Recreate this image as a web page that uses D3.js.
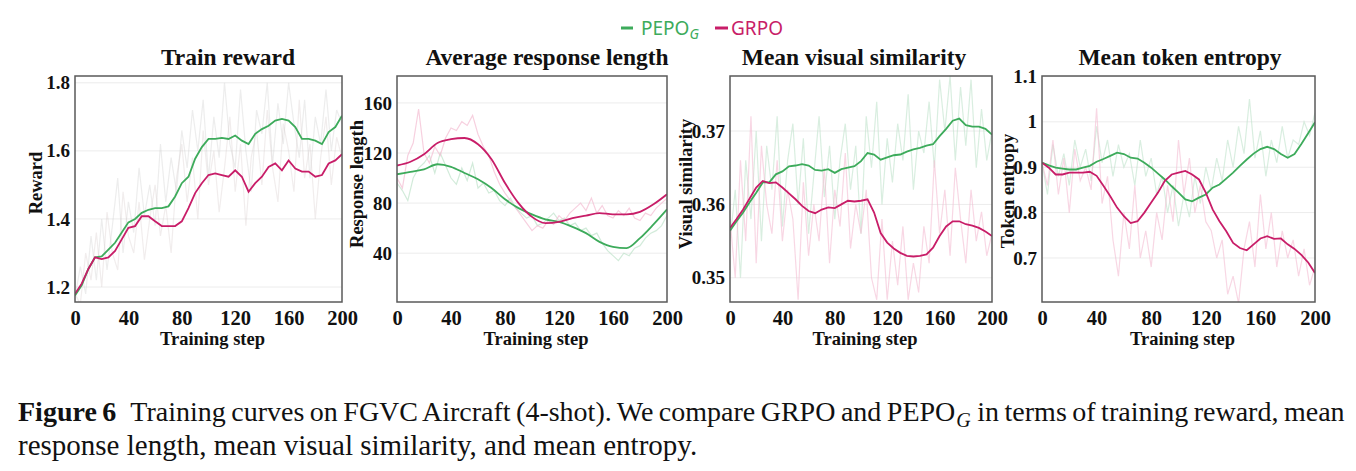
<!DOCTYPE html>
<html>
<head>
<meta charset="utf-8">
<script src="https://cdn.jsdelivr.net/npm/d3@7"></script>
<style>
  body { margin: 0; background: #fff; }
  svg text { font-family: 'Liberation Serif', 'Times New Roman', serif; }
</style>
</head>
<body>
<div id="chart"></div>
<script>
// steps for smoothed curves and raw (noisy) curves
let steps5 = d3.range(0, 201, 5)
let steps10 = d3.range(0, 201, 10)
let stepsRaw = d3.range(0, 201, 4)
let xTicks = [0, 40, 80, 120, 160, 200]

// Train reward
let rewardPepo = [1.175, 1.205, 1.253, 1.287, 1.29, 1.31, 1.33, 1.36, 1.39, 1.40, 1.418, 1.427, 1.432, 1.432, 1.437, 1.466, 1.505, 1.524, 1.577, 1.611, 1.635, 1.635, 1.638, 1.635, 1.645, 1.63, 1.62, 1.65, 1.664, 1.674, 1.689, 1.694, 1.689, 1.67, 1.635, 1.635, 1.63, 1.62, 1.655, 1.67, 1.703]
let rewardGrpo = [1.18, 1.21, 1.253, 1.287, 1.282, 1.287, 1.306, 1.34, 1.374, 1.379, 1.408, 1.408, 1.393, 1.379, 1.379, 1.379, 1.393, 1.432, 1.476, 1.505, 1.529, 1.534, 1.529, 1.524, 1.543, 1.524, 1.48, 1.505, 1.524, 1.553, 1.563, 1.543, 1.572, 1.548, 1.539, 1.539, 1.524, 1.529, 1.563, 1.572, 1.59]
let rewardPepoRaw = [1.17, 1.26, 1.18, 1.35, 1.22, 1.40, 1.25, 1.38, 1.52, 1.30, 1.45, 1.36, 1.55, 1.41, 1.50, 1.38, 1.62, 1.45, 1.58, 1.48, 1.66, 1.55, 1.72, 1.60, 1.75, 1.52, 1.70, 1.58, 1.80, 1.62, 1.55, 1.78, 1.60, 1.48, 1.72, 1.65, 1.80, 1.56, 1.74, 1.62, 1.80, 1.68, 1.58, 1.75, 1.52, 1.70, 1.62, 1.78, 1.60, 1.72, 1.68]
let rewardGrpoRaw = [1.18, 1.15, 1.30, 1.22, 1.36, 1.20, 1.42, 1.30, 1.25, 1.48, 1.35, 1.30, 1.45, 1.28, 1.40, 1.50, 1.35, 1.44, 1.30, 1.52, 1.62, 1.45, 1.58, 1.40, 1.66, 1.50, 1.60, 1.42, 1.55, 1.70, 1.48, 1.62, 1.38, 1.58, 1.66, 1.50, 1.72, 1.55, 1.45, 1.68, 1.60, 1.48, 1.75, 1.52, 1.62, 1.40, 1.58, 1.70, 1.50, 1.64, 1.58]

// Average response length
let lengthPepo = [103, 105, 107, 111, 109, 104, 99, 92, 83, 76, 71, 67, 65, 61, 56, 49, 45, 44, 52, 63, 75]
let lengthGrpo = [110, 113, 119, 128, 131, 132, 127, 115, 96, 80, 69, 64, 65, 68, 70, 72, 71, 71, 73, 79, 87]
let lengthPepoRaw = [96, 90, 82, 100, 108, 112, 118, 104, 120, 110, 100, 95, 108, 98, 112, 92, 96, 88, 90, 82, 78, 84, 76, 72, 68, 70, 62, 64, 68, 72, 66, 68, 62, 64, 58, 60, 54, 56, 48, 42, 38, 34, 40, 38, 44, 46, 52, 56, 58, 62, 70]
let lengthGrpoRaw = [100, 92, 118, 128, 155, 120, 112, 125, 118, 132, 140, 138, 145, 142, 150, 135, 125, 118, 105, 95, 88, 82, 76, 70, 64, 58, 62, 60, 66, 63, 70, 66, 72, 76, 80, 74, 84, 72, 78, 70, 68, 74, 70, 76, 68, 66, 72, 70, 76, 80, 84]

// Mean visual similarity
let simPepo = [0.3564, 0.3577, 0.3589, 0.3603, 0.3616, 0.363, 0.363, 0.3641, 0.3645, 0.3652, 0.3653, 0.3655, 0.3653, 0.3647, 0.3646, 0.3648, 0.3643, 0.3648, 0.365, 0.3652, 0.3659, 0.367, 0.3668, 0.3661, 0.3664, 0.3667, 0.3668, 0.3672, 0.3675, 0.3677, 0.368, 0.3682, 0.3693, 0.3703, 0.3714, 0.3717, 0.3708, 0.3706, 0.3706, 0.3703, 0.3695]
let simGrpo = [0.3568, 0.358, 0.3593, 0.3608, 0.3623, 0.3632, 0.3629, 0.363, 0.3623, 0.3615, 0.3607, 0.3598, 0.3591, 0.3588, 0.3593, 0.3596, 0.3595, 0.36, 0.3605, 0.3604, 0.3605, 0.3607, 0.3589, 0.3561, 0.3548, 0.354, 0.3534, 0.353, 0.3529, 0.353, 0.3532, 0.3541, 0.3557, 0.357, 0.3577, 0.3577, 0.3573, 0.3571, 0.3568, 0.3563, 0.3557]
let simPepoRaw = [0.355, 0.362, 0.350, 0.366, 0.358, 0.370, 0.355, 0.368, 0.362, 0.372, 0.357, 0.366, 0.371, 0.360, 0.369, 0.356, 0.364, 0.372, 0.361, 0.368, 0.358, 0.366, 0.371, 0.362, 0.368, 0.356, 0.372, 0.365, 0.374, 0.360, 0.369, 0.363, 0.371, 0.366, 0.375, 0.362, 0.370, 0.367, 0.374, 0.365, 0.377, 0.370, 0.3775, 0.366, 0.376, 0.368, 0.377, 0.365, 0.373, 0.366, 0.370]
let simGrpoRaw = [0.358, 0.350, 0.366, 0.355, 0.372, 0.352, 0.368, 0.360, 0.356, 0.366, 0.355, 0.362, 0.358, 0.347, 0.363, 0.353, 0.360, 0.355, 0.365, 0.352, 0.362, 0.357, 0.367, 0.354, 0.360, 0.356, 0.362, 0.350, 0.347, 0.358, 0.347, 0.355, 0.349, 0.357, 0.347, 0.352, 0.348, 0.357, 0.352, 0.366, 0.356, 0.362, 0.353, 0.365, 0.358, 0.352, 0.362, 0.355, 0.359, 0.353, 0.356]

// Mean token entropy
let entPepo = [0.91, 0.904, 0.899, 0.897, 0.895, 0.895, 0.899, 0.903, 0.912, 0.918, 0.925, 0.932, 0.929, 0.921, 0.919, 0.91, 0.899, 0.886, 0.873, 0.858, 0.844, 0.829, 0.825, 0.833, 0.84, 0.855, 0.862, 0.875, 0.888, 0.903, 0.917, 0.93, 0.94, 0.945, 0.94, 0.929, 0.921, 0.929, 0.951, 0.975, 0.999]
let entGrpo = [0.91, 0.899, 0.884, 0.884, 0.888, 0.888, 0.888, 0.89, 0.881, 0.859, 0.836, 0.811, 0.792, 0.777, 0.781, 0.8, 0.822, 0.844, 0.87, 0.884, 0.888, 0.892, 0.884, 0.873, 0.844, 0.807, 0.781, 0.759, 0.733, 0.722, 0.717, 0.73, 0.743, 0.748, 0.742, 0.743, 0.73, 0.72, 0.707, 0.69, 0.667]
let entPepoRaw = [0.91, 0.84, 0.95, 0.88, 0.93, 0.86, 0.96, 0.90, 0.94, 0.87, 0.99, 0.91, 0.96, 0.88, 0.95, 0.90, 0.93, 0.86, 0.96, 0.88, 0.92, 0.84, 0.88, 0.80, 0.86, 0.77, 0.84, 0.79, 0.88, 0.82, 0.90, 0.85, 0.92, 0.87, 0.96, 0.90, 0.99, 0.93, 1.05, 0.92, 0.98, 0.88, 0.96, 0.91, 0.99, 0.92, 0.96, 0.95, 1.00, 0.97, 1.02]
let entGrpoRaw = [0.91, 0.86, 0.96, 0.84, 0.92, 0.80, 0.94, 0.87, 0.90, 0.85, 1.03, 0.82, 0.88, 0.74, 0.66, 0.80, 0.72, 0.86, 0.70, 0.76, 0.68, 0.80, 0.74, 0.86, 0.78, 0.96, 0.84, 0.92, 0.80, 0.86, 0.78, 0.76, 0.70, 0.74, 0.62, 0.66, 0.60, 0.72, 0.78, 0.68, 0.84, 0.72, 0.80, 0.68, 0.76, 0.70, 0.74, 0.66, 0.72, 0.64, 0.68]

let green = '#3dab5b'
let magenta = '#c81d68'

let width = 1356
let height = 471

let svg = d3
  .select('#chart')
  .append('svg')
  .attr('width', width)
  .attr('height', height)

let panels = [
  {
    title: 'Train reward', ylabel: 'Reward', left: 75, right: 342, titleX: 228, ylabelX: 42, ylabelY: 183,
    domain: [1.156, 1.82], yTicks: [1.2, 1.4, 1.6, 1.8], fmt: d3.format('.1f'),
    steps: steps5, pepo: rewardPepo, grpo: rewardGrpo, pepoRaw: rewardPepoRaw, grpoRaw: rewardGrpoRaw,
    rawPepoColor: '#cccccc', rawGrpoColor: '#d6cccc', rawOpacity: 0.35, curve: d3.curveLinear
  },
  {
    title: 'Average response length', ylabel: 'Response length', left: 397, right: 667, titleX: 547, ylabelX: 363, ylabelY: 184,
    domain: [1, 181.5], yTicks: [40, 80, 120, 160], fmt: d3.format('d'),
    steps: steps10, pepo: lengthPepo, grpo: lengthGrpo, pepoRaw: lengthPepoRaw, grpoRaw: lengthGrpoRaw,
    rawPepoColor: '#bfe3cb', rawGrpoColor: '#f3bcd2', rawOpacity: 0.7, curve: d3.curveMonotoneX
  },
  {
    title: 'Mean visual similarity', ylabel: 'Visual similarity', left: 730, right: 992, titleX: 854, ylabelX: 692, ylabelY: 184,
    domain: [0.3467, 0.3775], yTicks: [0.35, 0.36, 0.37], fmt: d3.format('.2f'),
    steps: steps5, pepo: simPepo, grpo: simGrpo, pepoRaw: simPepoRaw, grpoRaw: simGrpoRaw,
    rawPepoColor: '#bfe3cb', rawGrpoColor: '#f3bcd2', rawOpacity: 0.6, curve: d3.curveLinear
  },
  {
    title: 'Mean token entropy', ylabel: 'Token entropy', left: 1042, right: 1315, titleX: 1180, ylabelX: 1014, ylabelY: 191,
    domain: [0.603, 1.101], yTicks: [0.7, 0.8, 0.9, 1, 1.1], fmt: d3.format('~g'),
    steps: steps5, pepo: entPepo, grpo: entGrpo, pepoRaw: entPepoRaw, grpoRaw: entGrpoRaw,
    rawPepoColor: '#bfe3cb', rawGrpoColor: '#f3bcd2', rawOpacity: 0.6, curve: d3.curveLinear
  }
]

let plotTop = 76
let plotBottom = 302

panels.forEach((p, i) => {
  let g = svg.append('g')

  let x = d3.scaleLinear().domain([0, 200]).range([p.left, p.right])
  let y = d3.scaleLinear().domain(p.domain).range([plotBottom, plotTop])

  g.append('clipPath')
    .attr('id', 'clip-' + i)
    .append('rect')
    .attr('x', p.left)
    .attr('y', plotTop)
    .attr('width', p.right - p.left)
    .attr('height', plotBottom - plotTop)

  // faint horizontal grid
  g.append('g')
    .selectAll('line')
    .data(p.yTicks)
    .enter()
    .append('line')
    .attr('x1', p.left)
    .attr('x2', p.right)
    .attr('y1', d => y(d))
    .attr('y2', d => y(d))
    .attr('stroke', '#ececec')
    .attr('stroke-width', 1)

  let plot = g.append('g').attr('clip-path', 'url(#clip-' + i + ')')

  let rawLine = d3
    .line()
    .x((d, j) => x(stepsRaw[j]))
    .y(d => y(d))

  plot.append('path')
    .datum(p.pepoRaw)
    .attr('d', rawLine)
    .attr('fill', 'none')
    .attr('stroke', p.rawPepoColor)
    .attr('stroke-opacity', p.rawOpacity)
    .attr('stroke-width', 1.2)

  plot.append('path')
    .datum(p.grpoRaw)
    .attr('d', rawLine)
    .attr('fill', 'none')
    .attr('stroke', p.rawGrpoColor)
    .attr('stroke-opacity', p.rawOpacity)
    .attr('stroke-width', 1.2)

  let line = d3
    .line()
    .x((d, j) => x(p.steps[j]))
    .y(d => y(d))
    .curve(p.curve)

  plot.append('path')
    .datum(p.pepo)
    .attr('d', line)
    .attr('fill', 'none')
    .attr('stroke', green)
    .attr('stroke-width', 1.8)

  plot.append('path')
    .datum(p.grpo)
    .attr('d', line)
    .attr('fill', 'none')
    .attr('stroke', magenta)
    .attr('stroke-width', 1.8)

  // frame
  g.append('rect')
    .attr('x', p.left)
    .attr('y', plotTop)
    .attr('width', p.right - p.left)
    .attr('height', plotBottom - plotTop)
    .attr('fill', 'none')
    .attr('stroke', '#5a5a5a')
    .attr('stroke-width', 1.5)

  let yAxis = g.append('g')
    .attr('transform', 'translate(' + p.left + ',0)')
    .call(d3.axisLeft(y).tickValues(p.yTicks).tickFormat(p.fmt).tickSize(0).tickPadding(5))
  yAxis.select('.domain').remove()
  yAxis.selectAll('.tick text').attr('font-size', 19)

  let xAxis = g.append('g')
    .attr('transform', 'translate(0,' + plotBottom + ')')
    .call(d3.axisBottom(x).tickValues(xTicks).tickSize(0).tickPadding(8))
  xAxis.select('.domain').remove()
  xAxis.selectAll('.tick text').attr('font-size', 20.5)

  g.selectAll('.tick text')
    .attr('font-family', "'Liberation Serif', serif")
    .attr('font-weight', 'bold')
    .attr('fill', '#111')

  g.append('text')
    .attr('x', p.titleX)
    .attr('y', 65)
    .attr('text-anchor', 'middle')
    .attr('font-size', 23.5)
    .attr('font-weight', 'bold')
    .attr('fill', '#111')
    .text(p.title)

  g.append('text')
    .attr('transform', 'translate(' + p.ylabelX + ',' + p.ylabelY + ') rotate(-90)')
    .attr('text-anchor', 'middle')
    .attr('font-size', 18.5)
    .attr('font-weight', 'bold')
    .attr('fill', '#111')
    .text(p.ylabel)

  g.append('text')
    .attr('x', (p.left + p.right) / 2 + 4)
    .attr('y', 345)
    .attr('text-anchor', 'middle')
    .attr('font-size', 18.5)
    .attr('font-weight', 'bold')
    .attr('fill', '#111')
    .text('Training step')
})

// legend
let legend = svg.append('g')

legend.append('line')
  .attr('x1', 621).attr('x2', 633).attr('y1', 28).attr('y2', 28)
  .attr('stroke', green).attr('stroke-width', 3)

let pepoText = legend.append('text')
  .attr('x', 641)
  .attr('y', 35)
  .style('font-family', "'Noto Sans', sans-serif")
  .attr('font-size', 19)
  .attr('fill', green)
pepoText.append('tspan').text('PEPO')
pepoText.append('tspan')
  .attr('font-style', 'italic')
  .attr('font-size', 14)
  .attr('dy', 4)
  .text('G')

legend.append('line')
  .attr('x1', 715).attr('x2', 728).attr('y1', 28).attr('y2', 28)
  .attr('stroke', magenta).attr('stroke-width', 3)

legend.append('text')
  .attr('x', 731)
  .attr('y', 35)
  .style('font-family', "'Noto Sans', sans-serif")
  .attr('font-size', 19)
  .attr('fill', magenta)
  .text('GRPO')

// caption: first line split in three pieces so the subscript sits on its own
let capA = svg.append('text')
  .attr('x', 18)
  .attr('y', 421)
  .attr('font-size', 28)
  .attr('word-spacing', -1.5)
  .attr('fill', '#111')
capA.append('tspan').attr('font-weight', 'bold').text('Figure 6')
capA.append('tspan').text('\u2002Training curves on FGVC Aircraft (4-shot). We compare GRPO and PEPO')

let gx = 18 + capA.node().getBBox().width + 1
let capG = svg.append('text')
  .attr('x', gx)
  .attr('y', 427)
  .attr('font-size', 20)
  .attr('font-style', 'italic')
  .attr('fill', '#111')
  .text('G')

let bx = gx + capG.node().getBBox().width + 6
svg.append('text')
  .attr('x', bx)
  .attr('y', 421)
  .attr('font-size', 28)
  .attr('word-spacing', -1.5)
  .attr('fill', '#111')
  .text('in terms of training reward, mean')

svg.append('text')
  .attr('x', 18)
  .attr('y', 455)
  .attr('font-size', 29)
  .attr('fill', '#111')
  .text('response length, mean visual similarity, and mean entropy.')
</script>
</body>
</html>
